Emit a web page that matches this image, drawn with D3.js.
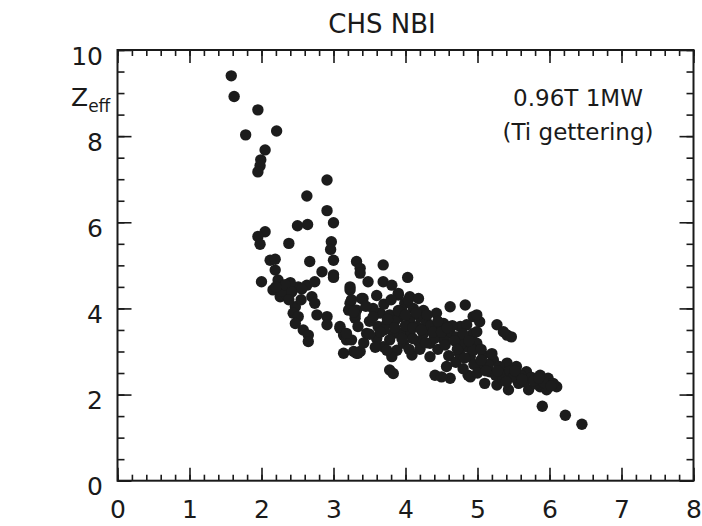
<!DOCTYPE html>
<html>
<head>
<meta charset="utf-8">
<script src="https://cdn.jsdelivr.net/npm/d3@7"></script>
<style>
  body { margin: 0; background: #fff; }
  text { font-family: "DejaVu Sans", sans-serif; fill: #1a1a1a; }
</style>
</head>
<body>
<div id="chart"></div>
<script>
// values (x axis has no label, y is Z_eff)
var xVals = [
  1.58, 1.62, 1.95, 1.78, 2.21, 2.05, 1.99, 1.98, 1.95, 2.91,
  2.63, 2.91, 3.00, 2.50, 2.64, 2.05, 1.95, 1.98, 2.38, 2.97,
  2.96, 3.00, 3.32, 2.67, 2.12, 2.19, 2.84, 3.00, 3.37, 2.19,
  2.00, 2.23, 2.16, 2.30, 2.26, 2.35, 2.51, 2.63, 2.74, 3.00,
  2.70, 2.74, 2.47, 2.44, 2.51, 2.47, 2.58, 2.65, 2.65, 2.77,
  2.91, 2.91, 3.09, 3.14, 3.18, 3.14, 3.28, 3.34, 3.23, 3.23,
  3.21, 3.30, 3.41, 3.37, 3.46, 3.69, 3.48, 3.69, 3.81, 4.03,
  3.90, 4.06, 4.18, 3.99, 4.11, 3.23, 3.25, 3.32, 3.39, 3.65,
  3.78, 3.92, 4.43, 4.62, 4.83, 4.94, 3.62, 3.74, 3.83, 3.78,
  3.69, 3.88, 4.09, 3.81, 3.78, 3.83, 4.06, 4.16, 4.25, 4.06,
  4.34, 4.34, 4.53, 4.62, 4.53, 4.71, 4.76, 4.85, 4.90, 4.94,
  4.99, 4.41, 4.57, 4.62, 4.50, 4.87, 3.30, 3.34, 3.37, 3.25,
  4.43, 4.20, 4.29, 3.92, 3.97, 4.18, 3.74, 5.27, 5.41, 5.47,
  5.03, 4.99, 4.85, 4.99, 5.36, 4.78, 4.94, 5.08, 5.22, 5.41,
  5.54, 5.68, 5.87, 5.98, 6.10, 6.05, 4.90, 5.10, 5.27, 5.43,
  5.57, 5.71, 5.87, 5.96, 5.17, 5.03, 5.36, 5.90, 6.22, 6.45,
  3.28, 3.09, 3.18, 3.32, 3.90, 4.04, 3.50, 3.55, 3.60, 3.70,
  3.85, 3.95, 4.00, 4.10, 4.20, 4.25, 4.35, 4.40, 4.45, 4.55,
  4.60, 4.65, 4.70, 4.75, 4.80, 4.80, 4.95, 5.00, 5.05, 5.15,
  5.20, 5.25, 5.30, 5.35, 5.45, 5.50, 5.60, 5.65, 5.75, 5.80,
  5.92, 6.02, 2.55, 2.40, 3.45, 3.55, 3.60, 3.65, 3.70, 3.75,
  3.80, 3.85, 3.90, 3.95, 4.00, 4.05, 4.10, 4.15, 4.22, 4.28,
  4.30, 4.38, 4.45, 4.50, 4.58, 4.68, 4.72, 4.82, 4.88, 5.05,
  5.12, 5.28, 5.40, 5.52, 5.62, 5.78, 5.85, 3.42, 3.50, 3.58,
  2.28, 2.33, 2.42, 2.56, 2.20, 2.38
];
var zeffVals = [
  9.40, 8.92, 8.61, 8.03, 8.12, 7.68, 7.45, 7.31, 7.17, 6.98,
  6.61, 6.27, 5.99, 5.92, 5.95, 5.78, 5.67, 5.49, 5.51, 5.55,
  5.37, 5.12, 5.09, 5.09, 5.12, 5.14, 4.85, 4.78, 4.93, 4.89,
  4.62, 4.66, 4.43, 4.50, 4.27, 4.31, 4.50, 4.54, 4.62, 4.72,
  4.27, 4.12, 4.04, 3.89, 3.81, 3.65, 3.50, 3.38, 3.23, 3.85,
  3.81, 3.62, 3.54, 3.38, 3.27, 2.96, 3.00, 2.96, 4.43, 4.12,
  3.96, 3.77, 4.23, 4.82, 3.42, 5.01, 4.62, 4.62, 4.54, 4.72,
  4.31, 4.27, 4.23, 4.12, 4.00, 4.50, 4.20, 3.96, 4.23, 3.89,
  3.85, 3.81, 3.89, 4.04, 4.08, 3.81, 3.58, 3.65, 3.42, 3.27,
  3.11, 3.03, 2.92, 2.88, 2.57, 2.49, 3.73, 3.58, 3.42, 3.42,
  3.19, 2.88, 3.65, 3.42, 3.27, 3.34, 3.58, 3.11, 2.88, 3.42,
  3.19, 2.45, 2.65, 2.38, 2.41, 2.45, 3.85, 3.58, 3.00, 3.27,
  3.50, 3.81, 3.69, 3.42, 3.19, 3.23, 3.03, 3.62, 3.38, 3.34,
  3.69, 3.85, 3.62, 3.46, 3.46, 3.19, 3.03, 2.92, 2.80, 2.73,
  2.65, 2.53, 2.45, 2.38, 2.18, 2.26, 2.41, 2.26, 2.22, 2.11,
  2.26, 2.11, 2.18, 2.11, 2.53, 2.65, 2.49, 1.73, 1.52, 1.31,
  3.92, 3.58, 3.42, 2.96, 4.35, 4.20, 3.70, 4.00, 3.30, 3.50,
  3.70, 3.95, 3.60, 3.30, 3.05, 3.95, 3.60, 3.30, 3.05, 3.15,
  2.90, 3.60, 2.75, 2.95, 3.40, 2.60, 2.70, 2.50, 3.05, 2.70,
  2.95, 2.45, 2.65, 2.35, 2.55, 2.40, 2.45, 2.30, 2.40, 2.25,
  2.28, 2.20, 4.20, 4.60, 4.05, 3.80, 4.30, 3.45, 4.10, 3.75,
  4.20, 3.55, 3.95, 3.30, 3.85, 3.05, 3.55, 3.90, 3.50, 3.20,
  3.85, 3.45, 3.70, 3.45, 3.55, 3.25, 3.05, 2.85, 3.25, 2.80,
  2.55, 2.55, 2.30, 2.55, 2.35, 2.32, 2.38, 3.20, 3.40, 3.10,
  4.40, 4.55, 4.38, 4.45, 4.50, 4.20
];
var xTicks = [0, 1, 2, 3, 4, 5, 6, 7, 8];
var yTicks = [0, 2, 4, 6, 8, 10];
var titleText = "CHS NBI";
var noteLines = ["0.96T 1MW", "(Ti gettering)"];

var W = 702, H = 526;
var margin = {top: 50, right: 8.5, bottom: 45.3, left: 117.5},
    width = W - margin.left - margin.right,
    height = H - margin.top - margin.bottom;

var svg = d3.select("#chart")
  .append("svg")
    .attr("width", W)
    .attr("height", H);

var g = svg.append("g")
    .attr("transform", "translate(" + margin.left + "," + margin.top + ")");

var x = d3.scaleLinear().domain([0, 8]).range([0, width]);
var y = d3.scaleLinear().domain([0, 10]).range([height, 0]);

var xMinor = d3.range(0, 8.01, 0.2).map(function(d) { return +d.toFixed(1); });
var yMinor = d3.range(0, 10.01, 0.5);

function styleAxis(sel) {
  sel.select(".domain").remove();
  sel.selectAll("line").attr("stroke", "#1a1a1a").attr("stroke-width", 1.6);
}

// minor ticks, all four sides, pointing inward
g.append("g").attr("transform", "translate(0," + height + ")")
  .call(d3.axisBottom(x).tickValues(xMinor).tickSize(-6).tickFormat(""))
  .call(styleAxis);
g.append("g")
  .call(d3.axisTop(x).tickValues(xMinor).tickSize(-6).tickFormat(""))
  .call(styleAxis);
g.append("g")
  .call(d3.axisLeft(y).tickValues(yMinor).tickSize(-7).tickFormat(""))
  .call(styleAxis);
g.append("g").attr("transform", "translate(" + width + ",0)")
  .call(d3.axisRight(y).tickValues(yMinor).tickSize(-7).tickFormat(""))
  .call(styleAxis);

// major ticks + labels
var xAxis = g.append("g").attr("transform", "translate(0," + height + ")")
  .call(d3.axisBottom(x).tickValues(xTicks).tickSize(-13).tickPadding(19.5).tickFormat(d3.format("d")))
  .call(styleAxis);
xAxis.selectAll("text").style("font-size", "25px").attr("fill", "#1a1a1a");

g.append("g")
  .call(d3.axisTop(x).tickValues(xTicks).tickSize(-13).tickFormat(""))
  .call(styleAxis);

var yAxis = g.append("g")
  .call(d3.axisLeft(y).tickValues(yTicks).tickSize(-14).tickPadding(14.5).tickFormat(d3.format("d")))
  .call(styleAxis);
yAxis.selectAll("text").style("font-size", "25px").attr("fill", "#1a1a1a").attr("dy", "0.56em");

g.append("g").attr("transform", "translate(" + width + ",0)")
  .call(d3.axisRight(y).tickValues(yTicks).tickSize(-14).tickFormat(""))
  .call(styleAxis);

// frame
g.append("rect")
  .attr("width", width)
  .attr("height", height)
  .attr("fill", "none")
  .attr("stroke", "#1a1a1a")
  .attr("stroke-width", 2);

// points
g.append("g")
  .selectAll("circle")
  .data(xVals)
  .enter().append("circle")
    .attr("cx", function(d) { return x(d); })
    .attr("cy", function(d, i) { return y(zeffVals[i]); })
    .attr("r", 5.7)
    .attr("fill", "#1c1c1c");

// title
svg.append("text")
  .attr("x", 382)
  .attr("y", 33)
  .attr("text-anchor", "middle")
  .style("font-size", "26px")
  .text(titleText);

// y label Z_eff
var zl = svg.append("text")
  .attr("x", 71)
  .attr("y", 106)
  .style("font-size", "25px");
zl.append("tspan").text("Z");
zl.append("tspan").attr("dy", 6).style("font-size", "17px").text("eff");

// annotation
var note = g.append("text")
  .attr("text-anchor", "middle")
  .style("font-size", "23px");
note.selectAll("tspan")
  .data(noteLines)
  .enter().append("tspan")
    .attr("x", 578 - margin.left)
    .attr("y", function(d, i) { return 106 - margin.top + i * 34; })
    .text(function(d) { return d; });
</script>
</body>
</html>
